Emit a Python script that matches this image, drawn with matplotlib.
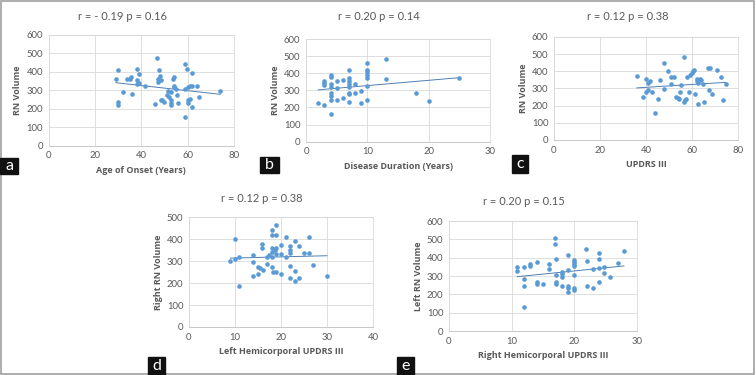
import numpy as np
import matplotlib
matplotlib.use("Agg")
import matplotlib.pyplot as plt
from matplotlib.patches import Rectangle

plt.rcParams["font.family"] = ["Lato", "DejaVu Sans"]

# --- data ---
onset_x = [29, 30, 30, 30, 32, 34, 35, 35.6, 36, 38, 38, 38, 39, 39, 41.7, 46, 46.6, 47,
           47.6, 48, 47, 48.7, 48.7, 49, 50, 51, 51.6, 52, 53, 53, 53, 53, 53.7, 54, 54,
           54, 55, 55.6, 56, 59, 59, 59, 59.5, 60, 60, 60, 61, 61, 61.7, 62, 62, 64, 65, 74]
onset_y = [362, 410, 238, 220, 290, 362, 362, 373, 279, 414, 355, 333, 387, 342, 326, 228,
           477, 362, 409, 378, 346, 355, 250, 247, 238, 277, 297, 265, 292, 247, 220, 234,
           362, 373, 319, 324, 306, 274, 234, 445, 157, 306, 414, 234, 247, 319, 252, 324,
           324, 396, 211, 324, 265, 295]

dur_x = [2, 3, 3, 3, 3, 4, 4, 4, 4, 4, 4, 4, 4, 5, 5, 5, 6, 6, 7, 7, 7, 7, 7, 7, 7, 7,
         8, 8, 9, 9, 10, 10, 10, 10, 10, 10, 10, 13, 13, 18, 20, 25]
dur_y = [228, 214, 355, 341, 331, 390, 380, 335, 321, 282, 267, 243, 160, 355, 312, 243,
         360, 253, 419, 374, 355, 335, 318, 286, 276, 234, 335, 286, 296, 224, 458, 419,
         405, 390, 371, 327, 244, 484, 367, 283, 238, 370]

updrs_x = [36, 38.5, 40, 40, 41, 41, 41.7, 42.4, 44, 45, 46, 48, 48, 49.6, 51, 52, 51,
           53, 54, 54.3, 54.7, 55, 56.6, 56.6, 57, 57.6, 58, 59, 58.8, 59.8, 60.5, 61,
           61.5, 62, 62, 62.7, 62.7, 63.4, 64, 64.6, 65, 67, 68, 67.5, 68.5, 70.7, 72.4,
           73.3, 74.7]
updrs_y = [374, 249, 355, 277, 331, 292, 341, 282, 156, 240, 347, 296, 448, 403, 366,
           366, 327, 249, 247, 240, 281, 321, 481, 224, 234, 240, 366, 380, 282, 390, 399,
           409, 269, 356, 341, 331, 212, 353, 351, 327, 220, 419, 419, 292, 267, 409, 366,
           230, 327]

left_x = [9, 9.9, 10, 10.9, 10.9, 14, 14, 14, 15, 15, 15.5, 15.9, 15.9, 16, 17, 17,
          17.3, 18, 18, 18, 18, 18, 18, 18.2, 19, 19, 19, 18.8, 19, 19, 20, 20, 20, 21,
          21, 22, 22, 22, 22, 22, 23, 23, 23, 24, 24, 25, 26, 26, 27, 30]
left_y = [300, 309, 399, 317, 186, 328, 297, 232, 241, 274, 267, 376, 358, 259, 285,
          320, 328, 439, 419, 358, 343, 320, 273, 248, 462, 419, 358, 351, 332, 248, 373,
          332, 241, 320, 407, 369, 351, 335, 279, 221, 392, 256, 210, 369, 221, 335, 407,
          335, 280, 232]

right_x = [10.9, 10.9, 12, 12, 12, 12, 12.9, 12.9, 14, 14, 14, 15, 16, 16, 16.9, 16.9,
           17, 17, 17, 17, 18, 18, 18, 18, 19, 19, 19, 19, 19, 19.9, 19.9, 19.9, 19.9,
           20, 20, 20, 21.9, 22, 22, 22.9, 23, 23.9, 23.9, 24, 24, 24.8, 24.8, 25.7,
           26.9, 27.9]
right_y = [350, 326, 350, 283, 244, 131, 354, 363, 374, 268, 259, 255, 363, 336, 505,
           474, 392, 305, 268, 259, 323, 310, 292, 244, 414, 332, 244, 232, 213, 390, 378,
           365, 354, 305, 232, 223, 450, 383, 244, 336, 232, 427, 392, 345, 268, 314, 350,
           292, 372, 436]

BLUE = "#5b9bd5"
GRAY = "#595959"
BOLD_FONT = ["Open Sans", "DejaVu Sans"]


def scatter_panel(fig, rect, x, y, xmax, xstep, ymax, xlabel, ylabel):
    ax = fig.add_axes(rect)
    ax.scatter(x, y, s=11, color=BLUE, linewidths=0, zorder=3)
    slope, icpt = np.polyfit(x, y, 1)
    xs = np.array([min(x), max(x)])
    ax.plot(xs, slope * xs + icpt, color="#4f7fb3", lw=0.7, zorder=2)
    ax.set_xlim(0, xmax)
    ax.set_ylim(0, ymax)
    ax.set_xticks(np.arange(0, xmax + 1, xstep))
    ax.set_yticks(np.arange(0, ymax + 1, 100))
    ax.grid(True, color="#d9d9d9", lw=0.6, zorder=0)
    for s in ax.spines.values():
        s.set_color("#d9d9d9")
        s.set_linewidth(0.6)
    ax.spines["bottom"].set_color("#bfbfbf")
    ax.tick_params(length=0, labelsize=6.8, labelcolor=GRAY, pad=4)
    ax.set_xlabel(xlabel, fontsize=6.5, color=GRAY, fontweight="bold", family=BOLD_FONT,
                  labelpad=4)
    ax.set_ylabel(ylabel, fontsize=6.5, color=GRAY, fontweight="bold", family=BOLD_FONT,
                  labelpad=3)
    return ax


def tag(fig, x0, y0, x1, y1, letter):
    W, H = 756, 375
    fig.patches.append(Rectangle((x0 / W, 1 - y1 / H), (x1 - x0) / W, (y1 - y0) / H,
                                 transform=fig.transFigure, color="#111111", zorder=5))
    fig.text((x0 + x1) / 2 / W, 1 - (y0 + y1) / 2 / H, letter, color="white",
             fontsize=11.5, ha="center", va="center", zorder=6)


def main():
    W, H = 756, 375
    fig = plt.figure(figsize=(7.56, 3.75), dpi=100)

    scatter_panel(fig, [0.0644, 0.6115, 0.2451, 0.2952], onset_x, onset_y, 80, 20, 600,
                  "Age of Onset (Years)", "RN Volume")
    scatter_panel(fig, [0.4048, 0.6221, 0.2434, 0.2739], dur_x, dur_y, 30, 10, 600,
                  "Disease Duration (Years)", "RN Volume")
    scatter_panel(fig, [0.7328, 0.6267, 0.2434, 0.2747], updrs_x, updrs_y, 80, 20, 600,
                  "UPDRS III", "RN Volume")
    scatter_panel(fig, [0.2500, 0.1280, 0.2434, 0.2933], left_x, left_y, 40, 10, 500,
                  "Left Hemicorporal UPDRS III", "Right RN Volume")
    scatter_panel(fig, [0.5939, 0.1173, 0.2487, 0.2933], right_x, right_y, 30, 10, 600,
                  "Right Hemicorporal UPDRS III", "Left RN Volume")

    titles = [(123, 16, "r = - 0.19 p = 0.16"), (379, 17, "r = 0.20 p = 0.14"),
              (628, 17, "r = 0.12 p = 0.38"), (262, 198, "r = 0.12 p = 0.38"),
              (524, 202, "r = 0.20 p = 0.15")]
    for tx, ty, t in titles:
        fig.text(tx / W, 1 - ty / H, t, fontsize=8, color=GRAY, ha="center", va="center")

    tag(fig, 0, 158, 18, 174, "a")
    tag(fig, 260, 157, 279, 173, "b")
    tag(fig, 512, 155, 528, 173, "c")
    tag(fig, 148, 357, 165, 375, "d")
    tag(fig, 397, 357, 414, 375, "e")

    fig.patches.append(Rectangle((0.001, 0.002), 0.997, 0.996, transform=fig.transFigure,
                                 fill=False, edgecolor="#a0a0a0", lw=1.2))

    fig.savefig("out.png", dpi=100)
    plt.close(fig)


if __name__ == "__main__":
    main()
